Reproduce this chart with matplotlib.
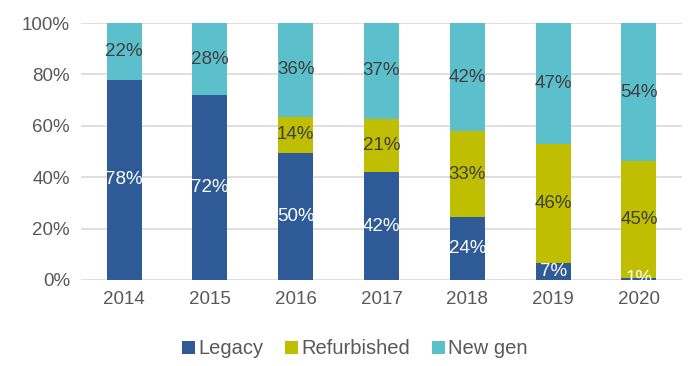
import numpy as np
import matplotlib.pyplot as plt

plt.rcParams['font.family'] = ['Liberation Sans', 'DejaVu Sans']

years = ['2014', '2015', '2016', '2017', '2018', '2019', '2020']
legacy = [78, 72, 49.6, 41.9, 24.4, 6.8, 0.8]
refurbished = [0, 0, 14, 20.8, 33.4, 46.2, 45.4]
new_gen = [22, 28, 36.4, 37.3, 42.2, 47, 53.8]

colors = ['#2E5A97', '#BFBE00', '#5BBFCC']
text_dark = '#404040'

fig = plt.figure(figsize=(7, 3.66), dpi=100)
ax = fig.add_axes([0.116, 0.235, 0.858, 0.702])

x = np.arange(len(years))
w = 0.41
series = [('Legacy', legacy), ('Refurbished', refurbished), ('New gen', new_gen)]
bottom = np.zeros(len(years))
for (name, vals), c in zip(series, colors):
    vals = np.array(vals, dtype=float)
    ax.bar(x, vals, w, bottom=bottom, color=c, label=name, zorder=3)
    for xi, b, v in zip(x, bottom, vals):
        if v <= 0:
            continue
        tc = 'white' if name == 'Legacy' else text_dark
        ax.text(xi, b + v / 2, f'{v:.0f}%', ha='center', va='center',
                color=tc, fontsize=13.5, zorder=4)
    bottom += vals

ax.set_ylim(0, 100)
ax.set_xlim(-0.5, len(years) - 0.5)
ax.set_yticks(range(0, 101, 20))
ax.set_yticklabels([f'{v}%' for v in range(0, 101, 20)])
ax.set_xticks(x)
ax.set_xticklabels(years)
ax.tick_params(length=0, labelsize=13.5, labelcolor='#595959', pad=8)
ax.grid(axis='y', color='#D9D9D9', linewidth=1.2, zorder=0)
for s in ax.spines.values():
    s.set_visible(False)

fig.legend(*ax.get_legend_handles_labels(), loc='center',
           bbox_to_anchor=(0.507, 0.047), ncol=3, frameon=False,
           fontsize=14.5, handlelength=0.65, handleheight=0.65, handletextpad=0.15,
           columnspacing=1.1, labelcolor='#595959')

fig.savefig('out.png', dpi=100)
